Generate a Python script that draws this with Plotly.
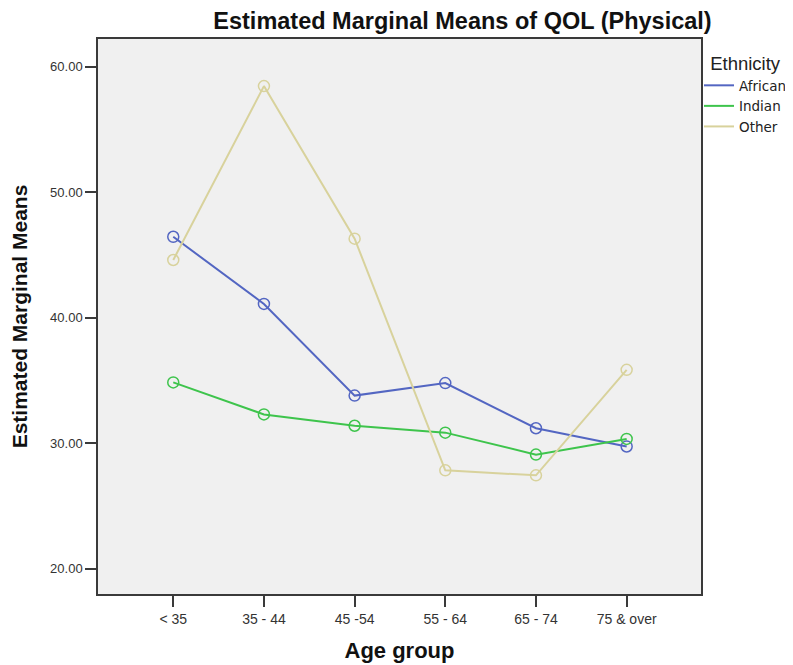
import plotly.graph_objects as go

age_groups = ["< 35", "35 - 44", "45 -54", "55 - 64", "65 - 74", "75 & over"]
african = [46.45, 41.1, 33.8, 34.8, 31.2, 29.75]
indian = [34.85, 32.3, 31.4, 30.85, 29.1, 30.35]
other = [44.6, 58.45, 46.3, 27.85, 27.45, 35.85]
y_ticks = [20, 30, 40, 50, 60]

series = [("African", african, "#5366C2"),
          ("Indian", indian, "#3EC44C"),
          ("Other", other, "#D8D29C")]

FONT = "Liberation Sans, Arial, sans-serif"
LEGFONT = "DejaVu Sans, sans-serif"

# the page body adds an 8px offset, so the figure is laid out 8px smaller
W, H = 785, 657

fig = go.Figure()
for name, vals, col in series:
    fig.add_trace(go.Scatter(
        x=list(range(len(age_groups))), y=vals, name=name, mode="lines+markers",
        showlegend=False, legendgroup=name,
        line=dict(color=col, width=2),
        marker=dict(symbol="circle-open", size=11, color=col, line=dict(width=1.5, color=col)),
    ))
# legend entries drawn as plain line samples (as in the reference)
for name, vals, col in series:
    fig.add_trace(go.Scatter(
        x=[None], y=[None], name=name, mode="lines", legendgroup=name,
        line=dict(color=col, width=2), hoverinfo="skip",
    ))

axis_common = dict(showgrid=False, zeroline=False, showline=True, mirror=True,
                   linecolor="#3a3a3a", linewidth=1.5, ticks="outside",
                   tickcolor="#3a3a3a", tickwidth=1.5, ticklen=11, automargin=False)

fig.update_layout(
    width=W, height=H,
    margin=dict(l=90, r=92, t=31, b=71, autoexpand=False),
    paper_bgcolor="white", plot_bgcolor="#F0F0F0",
    font=dict(family=FONT, color="#111111"),
    title=dict(text="<b>Estimated Marginal Means of QOL (Physical)</b>",
               font=dict(family=FONT, size=23.5, color="#111111"),
               x=454.5 / W, xref="container", xanchor="center",
               y=1 - 12.5 / H, yref="container", yanchor="middle"),
    xaxis=dict(**axis_common, range=[-0.83, 5.82],
               tickvals=list(range(len(age_groups))), ticktext=age_groups,
               tickfont=dict(family=FONT, size=14, color="#333333"),
               title=dict(text="<b>Age group</b>", standoff=17,
                          font=dict(family=FONT, size=22, color="#111111"))),
    yaxis=dict(**axis_common, range=[18.0, 62.2], tickvals=y_ticks, tickformat=".2f",
               tickfont=dict(family=FONT, size=13, color="#333333"),
               title=dict(text="<b>Estimated Marginal Means</b>", standoff=17,
                          font=dict(family=FONT, size=21, color="#111111"))),
    legend=dict(xref="container", yref="container",
                x=691 / W, xanchor="left", y=1 - 38 / H, yanchor="top",
                bgcolor="rgba(0,0,0,0)", itemwidth=30, tracegroupgap=0,
                title=dict(text="Ethnicity", side="top center",
                           font=dict(family=FONT, size=18.5, color="#222222")),
                font=dict(family=LEGFONT, size=13.5, color="#222222")),
    showlegend=True,
)

fig.write_html("out.html")
